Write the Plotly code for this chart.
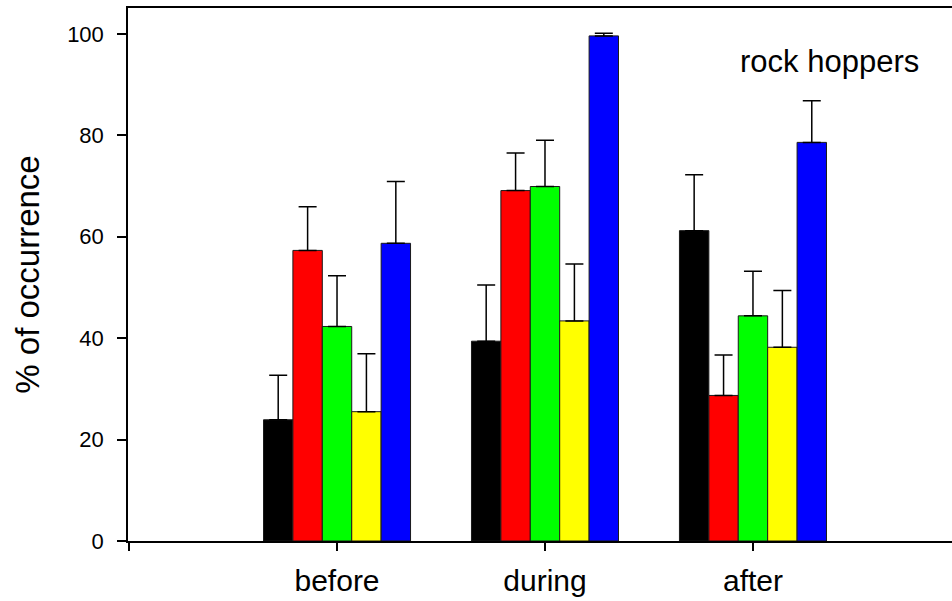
import plotly.graph_objects as go

# Rock hopper occurrence by period
periods = ["before", "during", "after"]
series_names = ["group 1", "group 2", "group 3", "group 4", "group 5"]
colors = ["#000000", "#ff0000", "#00ff00", "#ffff00", "#0000ff"]

# mean % of occurrence, one list per series (before, during, after)
mean_1 = [23.9, 39.4, 61.2]
mean_2 = [57.3, 69.1, 28.7]
mean_3 = [42.3, 69.9, 44.4]
mean_4 = [25.5, 43.4, 38.2]
mean_5 = [58.7, 99.6, 78.6]

# upper error (SE) for each bar
err_1 = [8.8, 11.1, 11.0]
err_2 = [8.6, 7.4, 8.0]
err_3 = [10.0, 9.1, 8.8]
err_4 = [11.4, 11.2, 11.2]
err_5 = [12.2, 0.5, 8.2]

y_ticks = [0, 20, 40, 60, 80, 100]

means = [mean_1, mean_2, mean_3, mean_4, mean_5]
errs = [err_1, err_2, err_3, err_4, err_5]
xpos = list(range(len(periods)))

FONT = "Arial, Liberation Sans, Helvetica, sans-serif"

fig = go.Figure()
for name, colour, m, e in zip(series_names, colors, means, errs):
    fig.add_trace(go.Bar(
        name=name,
        x=xpos,
        y=m,
        marker=dict(color=colour, line=dict(color="#1a1a1a", width=1)),
        error_y=dict(type="data", array=e, symmetric=False, arrayminus=[0] * len(e),
                     color="#000000", thickness=1.5, width=9),
    ))

fig.add_annotation(
    x=2.37, y=94.5, xref="x", yref="y",
    text="rock hoppers", showarrow=False,
    font=dict(family=FONT, size=31, color="#000000"),
)

fig.update_layout(
    width=952, height=601,
    margin=dict(l=128, r=0, t=8, b=60),
    paper_bgcolor="white", plot_bgcolor="white",
    barmode="group", bargap=0.293, bargroupgap=0,
    showlegend=False,
    font=dict(family=FONT, color="#000000"),
)
fig.update_xaxes(
    range=[-1.005, 2.957],
    tickmode="array", tickvals=[-1] + xpos, ticktext=[""] + periods,
    ticks="outside", ticklen=8, tickwidth=1.5, tickcolor="#000000",
    tickfont=dict(size=30), ticklabelstandoff=4,
    showline=True, linecolor="#000000", linewidth=1.5, mirror=True,
    showgrid=False, zeroline=False,
)
fig.update_yaxes(
    range=[0, 105.1],
    tickmode="array", tickvals=y_ticks,
    ticks="outside", ticklen=9, tickwidth=1.5, tickcolor="#000000",
    tickfont=dict(size=22), ticklabelstandoff=9,
    title=dict(text="% of occurrence", font=dict(size=33), standoff=18),
    showline=True, linecolor="#000000", linewidth=1.5,
    showgrid=False, zeroline=False,
)

# the page's default body margin would shift the figure by 8px
fig.write_html(
    "out.html",
    config={"displayModeBar": False},
    post_script="document.body.style.margin = '0px';",
)
